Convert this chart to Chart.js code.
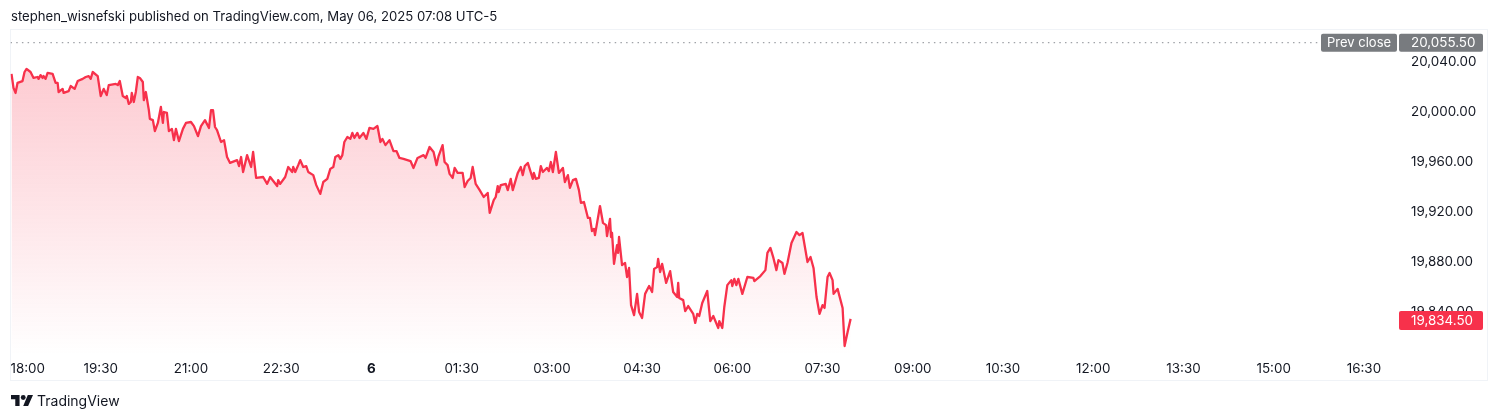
<!DOCTYPE html>
<html>
<head>
<meta charset="utf-8">
<script src="https://cdn.jsdelivr.net/npm/chart.js@4"></script>
<style>
    body { margin: 0; background: #fff; font-family: Inter, sans-serif; color: #131722; }
    #wrap { position: relative; width: 1500px; height: 420px; overflow: hidden; }
    #head { position: absolute; left: 11px; top: 7px; font-size: 13.15px; line-height: 18px; white-space: nowrap; }
    #foot { position: absolute; left: 37px; top: 392px; font-size: 14px; line-height: 18px; white-space: nowrap; }
    #logo { position: absolute; left: 11px; top: 395px; }
</style>
</head>
<body>
<div id="wrap">
    <canvas id="line-chart" width="1500" height="420"></canvas>
    <div id="head">stephen_wisnefski published on TradingView.com, May 06, 2025 07:08 UTC-5</div>
    <svg id="logo" width="22" height="11" viewBox="0 0 36 18"><path fill="#131722" d="M14 18H7V7H0V0h14v18zM28 18h-8L27.5 0H36l-8 18z"/><circle fill="#131722" cx="20" cy="4" r="4"/></svg>
    <div id="foot">TradingView</div>
</div>
<script>
// minutes after 18:00
var minutes = [1,3,5,7,12,14,16,20,23,27,28,30,32,33,35,37,42,45,47,48,52,53,58,60,64,67,72,75,78,80,82,87,88,90,93,96,98,105,107,109,112,115,116,118,120,121,123,125,127,129,132,133,135,138,139,142,144,147,150,152,153,156,158,161,163,165,168,172,175,180,183,187,190,194,198,200,202,204,206,210,213,216,219,226,228,230,232,236,240,242,245,252,256,259,266,267,269,274,277,281,282,284,287,289,292,295,297,302,305,309,312,316,319,322,324,327,329,331,333,336,339,341,343,346,348,352,355,358,362,366,369,371,374,378,382,385,388,392,399,402,406,412,414,418,422,425,427,431,433,436,438,441,443,446,451,453,456,459,461,464,468,472,476,478,482,484,486,487,489,494,496,499,501,506,509,511,513,516,521,522,524,527,529,531,535,537,539,541,544,547,551,553,556,558,561,564,567,569,572,576,578,580,582,583,588,591,594,595,598,599,600,602,605,606,607,610,613,615,617,619,622,625,627,630,633,637,640,642,645,646,648,650,654,658,661,665,666,667,671,673,676,681,683,685,687,690,695,698,701,706,707,710,712,715,719,720,722,724,726,730,735,741,742,748,753,755,758,761,764,766,770,772,775,779,784,787,790,795,798,801,804,807,810,812,815,817,820,821,825,830,832,835,838];

var prices = [20030.5,20019.25,20015.25,20023.25,20024.75,20032,20034.5,20032,20027.25,20028,20026.5,20029.5,20027.25,20028.75,20026.5,20031.25,20030.5,20023.25,20023.25,20016,20018.5,20015.25,20016.75,20020.75,20018.5,20024.75,20026.5,20028,20028.75,20026.5,20032,20028.75,20023.25,20012.75,20018.5,20013.5,20021.5,20022.5,20021.5,20024.75,20012.75,20011.25,20012.75,20006.5,20008,20015.25,20008,20016,20028,20027.25,20024,20009.5,20016,20001.5,19994.5,19993.5,19984.75,19991.25,20004,19991.25,20000,19999.25,19984.75,19986.5,19977.5,19986.5,19976.75,19986.5,19991.25,19992,19988.75,19980.75,19988.75,19993.5,19987.25,20001.5,20001.5,19988,19985.5,19976,19977.5,19964,19959.25,19961.5,19956.75,19964,19952,19965.5,19956,19968,19947.25,19948,19942.5,19948,19940.75,19945.5,19942.5,19948,19956,19952,19956,19952,19957.5,19961.5,19956,19956.75,19952,19949.5,19941.5,19934.5,19944,19946.5,19954.5,19956,19964,19965.5,19962.5,19965.5,19976,19980,19978.5,19983.25,19979.25,19983.25,19979.25,19983.25,19978.5,19987.25,19986.5,19988.75,19976,19978.5,19973.5,19977.5,19968.75,19968.75,19963.25,19962.5,19960.75,19955.25,19963.25,19965.5,19963.25,19972,19968,19957.5,19964.75,19973.5,19960,19957.5,19950.5,19947.25,19955.25,19951.25,19951.25,19940,19944.75,19947.25,19956,19942.5,19937.5,19932,19935.25,19919.25,19929.5,19932,19940.75,19936,19941.5,19942.5,19937.5,19946.5,19937.5,19951.25,19956,19949.5,19956.75,19959.25,19946.5,19951.25,19946.5,19947.25,19956.75,19952,19955.25,19952.75,19960,19952,19968,19951.25,19955.25,19944,19949.5,19939.25,19945.5,19946.5,19937.5,19927.25,19928,19915.25,19915.25,19904.75,19906.5,19901.5,19924.75,19911.25,19909.5,19900.75,19914.5,19900,19903.25,19878.5,19893.5,19887.25,19900,19877.5,19879.25,19868,19875.25,19845.5,19837.5,19854.5,19840,19835.25,19854.5,19860.75,19856,19874.5,19876,19882.5,19872,19878.5,19863.25,19872.75,19856,19852,19863.25,19851.25,19849.5,19840.75,19844.75,19838.5,19831.25,19838.5,19836.75,19847.25,19856.75,19832.75,19836.75,19827.25,19832.75,19827.25,19844,19861.5,19865.5,19860.75,19866.5,19861.5,19866.5,19854.5,19868,19867.25,19864.75,19868.75,19873.5,19887.25,19891.25,19883.25,19873.5,19881.5,19879.25,19870.5,19879.25,19895.25,19904,19901.5,19903.25,19880,19884,19875.25,19852,19838.5,19845.5,19843.25,19868,19871.25,19865.5,19854.5,19858.5,19843.25,19812.75,19824,19834.5];

var prevClose = 20055.5;
var lastPrice = 19834.5;
var priceTicks = [20040,20000,19960,19920,19880,19840];
var timeTicks = [0,90,180,270,360,450,540,630,720,810,900,990,1080,1170,1260,1350];
var timeLabels = ["18:00","19:30","21:00","22:30","6","01:30","03:00","04:30","06:00","07:30","09:00","10:30","12:00","13:30","15:00","16:30"];

var axisFont = "Inter, sans-serif";
var textColor = "#131722";
var lineRed = "#f7314b";
var xMax = 1384;

function drawTag(ctx, x, y, w, h, color, text, textX) {
    ctx.fillStyle = color;
    ctx.beginPath();
    ctx.roundRect(x, y, w, h, 2);
    ctx.fill();
    ctx.fillStyle = "#fff";
    ctx.textAlign = "left";
    ctx.textBaseline = "middle";
    ctx.fillText(text, textX, y + h / 2 + 0.5);
}

// frame and price tags
var tradingViewBits = {
    id: "tradingViewBits",
    beforeDraw: function (chart) {
        var c = chart.ctx;
        c.save();
        c.strokeStyle = "#f0f3f7";
        c.lineWidth = 1;
        c.strokeRect(10.5, 29.5, 1477, 351);
        c.restore();
    },
    afterDraw: function (chart) {
        var c = chart.ctx, yScale = chart.scales.y;
        var y1 = yScale.getPixelForValue(prevClose);
        var y2 = yScale.getPixelForValue(lastPrice);
        c.save();
        c.font = "13px " + axisFont;
        drawTag(c, 1321, y1 - 9, 76, 18, "#787b7f", "Prev close", 1327);
        c.font = "13.4px " + axisFont;
        drawTag(c, 1399, y1 - 9, 84, 18, "#787b7f", "20,055.50", 1411);
        drawTag(c, 1399, y2 - 8, 84, 19, "#f7314b", "19,834.50", 1411);
        c.restore();
    }
};

new Chart(document.getElementById("line-chart"), {
    type: 'line',
    data: {
        datasets: [{
            data: minutes.map(function (m, i) { return { x: m, y: prices[i] }; }),
            borderColor: lineRed,
            borderWidth: 2.3,
            borderJoinStyle: 'round',
            pointRadius: 0,
            tension: 0,
            fill: 'start',
            backgroundColor: function (context) {
                var a = context.chart.chartArea;
                if (!a) return "rgba(247,49,75,0.2)";
                var g = context.chart.ctx.createLinearGradient(0, a.top + 40, 0, a.bottom);
                g.addColorStop(0, "rgba(247,49,75,0.25)");
                g.addColorStop(1, "rgba(247,49,75,0)");
                return g;
            }
        }, {
            data: [{ x: 0, y: prevClose }, { x: 1306, y: prevClose }],
            borderColor: "#a0a3a8",
            borderWidth: 1.2,
            borderDash: [1.5, 4.2],
            pointRadius: 0,
            fill: false
        }]
    },
    options: {
        responsive: false,
        animation: false,
        layout: { padding: { left: 10.5, top: 30, right: 12, bottom: 39 } },
        plugins: { legend: { display: false }, tooltip: { enabled: false } },
        scales: {
            x: {
                type: 'linear',
                min: 0,
                max: xMax,
                grid: { display: false, drawTicks: false },
                border: { display: false },
                afterBuildTicks: function (axis) {
                    axis.ticks = timeTicks.concat([xMax]).map(function (v) { return { value: v }; });
                },
                afterFit: function (axis) { axis.height = 26; },
                ticks: {
                    autoSkip: false,
                    maxRotation: 0,
                    align: 'inner',
                    padding: 6,
                    color: textColor,
                    font: function (context) {
                        return {
                            family: axisFont,
                            size: 13.4,
                            weight: context.tick && context.tick.value === 360 ? 'bold' : 'normal'
                        };
                    },
                    callback: function (value) {
                        var i = timeTicks.indexOf(value);
                        return i < 0 ? "" : timeLabels[i];
                    }
                }
            },
            y: {
                position: 'right',
                min: 19805.6,
                max: 20065.6,
                grid: { display: false, drawTicks: false },
                border: { display: false },
                afterBuildTicks: function (axis) {
                    axis.ticks = priceTicks.map(function (v) { return { value: v }; });
                },
                afterFit: function (axis) { axis.width = 90; },
                ticks: {
                    padding: 13,
                    color: textColor,
                    font: { family: axisFont, size: 13.4 },
                    callback: function (value) {
                        return value.toLocaleString("en-US", { minimumFractionDigits: 2 });
                    }
                }
            }
        }
    },
    plugins: [tradingViewBits]
});
</script>
</body>
</html>
